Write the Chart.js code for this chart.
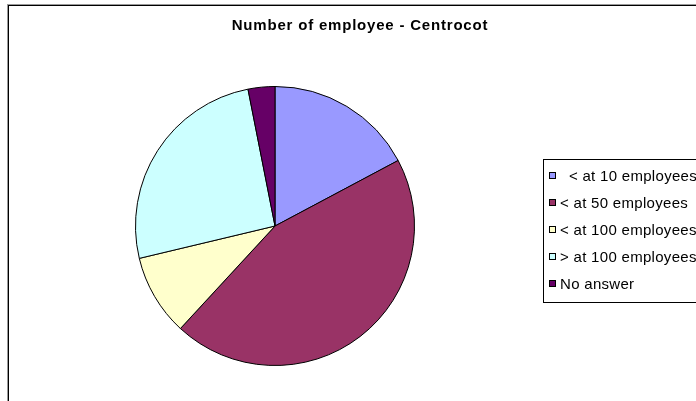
<!DOCTYPE html>
<html><head><meta charset="utf-8">
<script src="https://cdn.jsdelivr.net/npm/chart.js@4.4.1/dist/chart.umd.min.js"></script>
<style>
html,body{margin:0;padding:0;overflow:hidden;background:#fff;width:696px;height:401px}
#wrap{position:absolute;left:0;top:0;width:740px;height:420px}
</style>
</head><body>
<div id="wrap"><canvas id="c" width="740" height="420"></canvas></div>
<script>
const titleText = 'Number of employee - Centrocot';
const categories = ['  < at 10 employees', '< at 50 employees', '< at 100 employees', '> at 100 employees', 'No answer'];
const shares = [17.2, 44.6, 9.4, 25.6, 3.1];
const sliceColors = ['#9999FF', '#993366', '#FFFFCC', '#CCFFFF', '#660066'];

const decor = {
  id: 'decor',
  beforeDraw(chart) {
    const ctx = chart.ctx;
    ctx.save();
    ctx.fillStyle = '#fff';
    ctx.fillRect(0, 0, chart.width, chart.height);
    ctx.strokeStyle = '#999';
    ctx.lineWidth = 1;
    ctx.strokeRect(7.5, 4.5, chart.width, chart.height);
    ctx.strokeStyle = '#000';
    ctx.strokeRect(8.5, 5.5, chart.width, chart.height);
    ctx.restore();
  },
  afterDraw(chart) {
    const ctx = chart.ctx;
    ctx.save();
    ctx.fillStyle = '#000';
    ctx.font = 'bold 15px "Liberation Sans", Arial, sans-serif';
    ctx.letterSpacing = '0.8px';
    ctx.textAlign = 'center';
    ctx.textBaseline = 'middle';
    ctx.fillText(titleText, 360, 26);
    // legend frame
    ctx.lineWidth = 1;
    ctx.strokeStyle = '#000';
    ctx.strokeRect(543.5, 159.5, 300, 143);
    const ds = chart.data.datasets[0];
    ctx.font = '15px "Liberation Sans", Arial, sans-serif';
    ctx.letterSpacing = '0.3px';
    ctx.textAlign = 'left';
    chart.data.labels.forEach((lab, i) => {
      const y = 175.5 + i * 27.1;
      const yy = Math.round(y - 3.5);
      ctx.fillStyle = ds.backgroundColor[i];
      ctx.fillRect(549, yy, 7, 7);
      ctx.strokeStyle = '#000';
      ctx.strokeRect(549.5, yy + 0.5, 6, 6);
      ctx.fillStyle = '#000';
      ctx.fillText(lab, 560, y + 1);
    });
    ctx.restore();
  }
};

new Chart(document.getElementById('c'), {
  type: 'pie',
  data: {
    labels: categories,
    datasets: [{
      data: shares,
      backgroundColor: sliceColors,
      borderColor: '#000',
      borderWidth: 1,
      hoverOffset: 0
    }]
  },
  options: {
    responsive: false,
    devicePixelRatio: 1,
    animation: false,
    events: [],
    layout: { padding: { left: 135, right: 740 - 415, top: 86, bottom: 420 - 366 } },
    plugins: {
      legend: { display: false },
      title: { display: false },
      tooltip: { enabled: false }
    }
  },
  plugins: [decor]
});
</script>
</body></html>
